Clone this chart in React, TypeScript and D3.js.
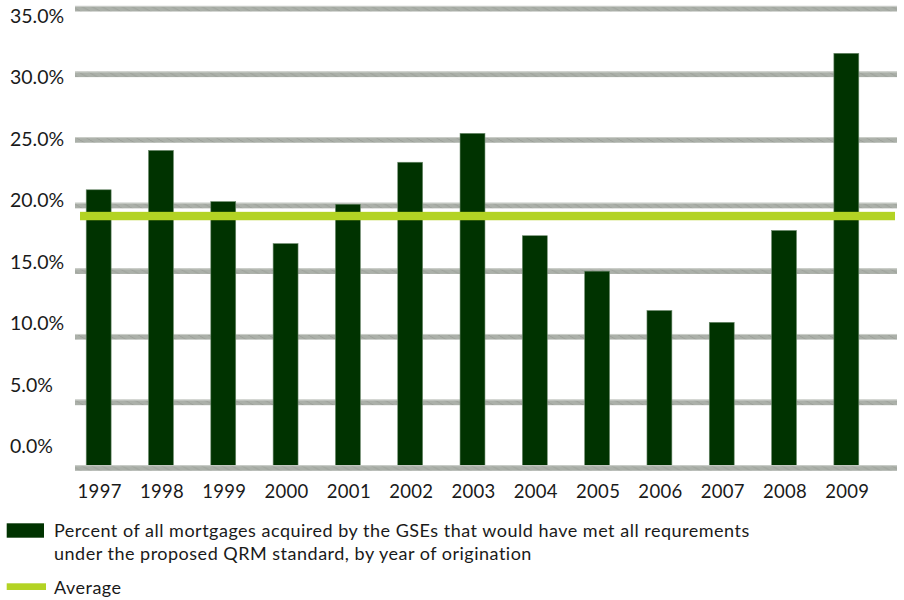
import React from 'react';
import * as d3 from 'd3';

const years = ['1997','1998','1999','2000','2001','2002','2003','2004','2005','2006','2007','2008','2009'];
const qrmShare = [21.2, 24.2, 20.3, 17.1, 20.1, 23.3, 25.5, 17.7, 15.0, 12.0, 11.1, 18.1, 31.6];
const averageShare = 19.2;
const yTicks = [0, 5, 10, 15, 20, 25, 30, 35];
const legendLines = [
  'Percent of all mortgages acquired by the GSEs that would have met all requrements',
  'under the proposed QRM standard, by year of origination',
];
const averageLabel = 'Average';

const W = 904;
const H = 600;
const FONT = 'Lato, "Open Sans", sans-serif';
const TEXT = '#1a1a1a';
const BAR = '#003300';
const LIME = '#b3d324';

export default function App() {
  const x = d3.scaleBand<string>().domain(years).range([67.5, 877.5]).paddingInner(0.6).paddingOuter(0.3);
  const y = d3.scaleLinear().domain([0, 35]).range([468, 8.7]);
  const yLabel = d3.scaleLinear().domain([0, 35]).range([446, 15.5]);
  const fmt = (v: number) => d3.format('.1f')(v) + '%';
  const gridX0 = 75;
  const gridX1 = 897;
  const gridH = 5.6;

  const gridLine = (v: number, key: string) => (
    <g key={key}>
      <rect x={gridX0} y={y(v) - gridH / 2} width={gridX1 - gridX0} height={gridH} fill="url(#hatch)" />
      <rect x={gridX0} y={y(v) - gridH / 2} width={gridX1 - gridX0} height={1} fill="#cdd0cb" />
    </g>
  );

  return (
    <svg width={W} height={H} style={{ position: 'absolute', left: 0, top: 0, background: '#fff' }} fontFamily={FONT}>
      <defs>
        <pattern id="hatch" width={10} height={gridH} patternUnits="userSpaceOnUse">
          <rect width={10} height={gridH} fill="#abb0a9" />
          <line x1={0} y1={0} x2={10} y2={gridH} stroke="#979c95" strokeWidth={0.8} />
        </pattern>
      </defs>
      <rect width={W} height={H} fill="#fff" />
      {yTicks.filter((t) => t > 0).map((t) => gridLine(t, 'g' + t))}
      {years.map((yr, i) => (
        <rect
          key={yr}
          x={x(yr)}
          y={y(qrmShare[i])}
          width={x.bandwidth()}
          height={y(0) - y(qrmShare[i]) - 2}
          fill={BAR}
          stroke="#6c8a6c"
          strokeWidth={0.6}
        />
      ))}
      {gridLine(0, 'g0')}
      <rect x={80} y={y(averageShare) - 4.2} width={815} height={8.4} fill={LIME} />
      {yTicks.map((t) => (
        <text key={'t' + t} x={10} y={yLabel(t) + 7} fontSize={19.5} fill={TEXT}>
          {fmt(t)}
        </text>
      ))}
      {years.map((yr) => (
        <text key={'l' + yr} x={(x(yr) as number) + x.bandwidth() / 2 + 1} y={498} fontSize={18.5} fill={TEXT} textAnchor="middle" letterSpacing={0.3}>
          {yr}
        </text>
      ))}
      <rect x={6.7} y={523.3} width={37.3} height={14.4} fill={BAR} />
      {legendLines.map((l, i) => (
        <text key={'lg' + i} x={54} y={537 + i * 23} fontSize={18} fill={TEXT} letterSpacing={0.5}>
          {l}
        </text>
      ))}
      <rect x={6.7} y={583.3} width={39.3} height={6.7} fill={LIME} />
      <text x={54} y={593.5} fontSize={18} fill={TEXT} letterSpacing={0.5}>
        {averageLabel}
      </text>
    </svg>
  );
}
